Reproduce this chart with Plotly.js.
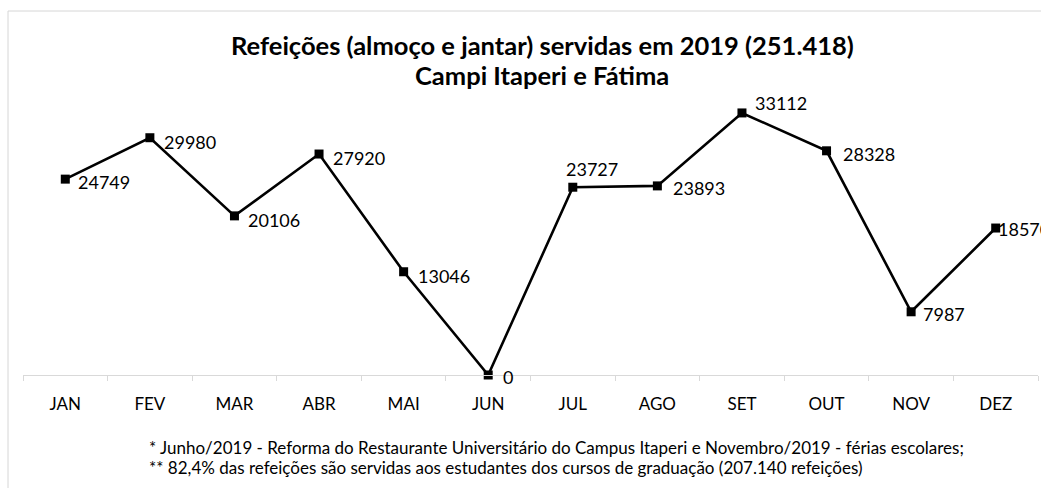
<!DOCTYPE html>
<html><head><meta charset="utf-8">
<script src="https://cdn.plot.ly/plotly-3.0.1.min.js"></script>
<style>html,body{margin:0;padding:0;background:#fff;overflow:hidden}</style>
</head><body>
<div id="chart" style="width:1041px;height:488px"></div>
<script>
const months = ["JAN","FEV","MAR","ABR","MAI","JUN","JUL","AGO","SET","OUT","NOV","DEZ"];
const meals = [24749, 29980, 20106, 27920, 13046, 0, 23727, 23893, 33112, 28328, 7987, 18570];
const titleLines = ["Refeições (almoço e jantar) servidas em 2019 (251.418)", "Campi Itaperi e Fátima"];
const footnotes = ["* Junho/2019 - Reforma do Restaurante Universitário do Campus Itaperi e Novembro/2019 - férias escolares;",
                   "** 82,4% das refeições são servidas aos estudantes dos cursos de graduação (207.140 refeições)"];

// label placement offsets (pixels) per point: [xshift, yshift]
const labelShift = [[11,-3],[12,-4],[12,-4],[12,-4],[12,-4],[13,-2],[-9,18],[14,-2],[11,10],[14,-3],[10,-2],[0,-1]];

const FONT = "Lato, 'Open Sans', sans-serif";
const labelAnns = months.map((m, i) => ({
  x: m, y: meals[i], xref: 'x', yref: 'y', text: String(meals[i]),
  showarrow: false, xanchor: 'left', yanchor: 'middle',
  xshift: labelShift[i][0], yshift: labelShift[i][1],
  font: {family: FONT, size: 18, color: '#000'}
}));

const plotTop = 98, plotBottom = 375, plotLeft = 23, plotW = 1015, plotH = 277;
const footAnns = footnotes.map((t, i) => ({
  xref: 'paper', yref: 'paper', x: (147 - plotLeft) / plotW, y: (plotBottom - (447 + 20 * i)) / plotH,
  xanchor: 'left', yanchor: 'middle', align: 'left', showarrow: false,
  text: t, font: {family: FONT, size: 17, color: '#000'}
}));
const titleAnns = titleLines.map((t, i) => ({
  xref: 'paper', yref: 'paper', x: (542 - plotLeft) / plotW, y: (plotBottom - (45 + 30 * i)) / plotH,
  xanchor: 'center', yanchor: 'middle', showarrow: false,
  text: '<b>' + t + '</b>', font: {family: FONT, size: 25.5, color: '#000'}
}));

const trace = {
  x: months, y: meals, type: 'scatter', mode: 'lines+markers',
  line: {color: '#000', width: 2.6},
  marker: {symbol: 'square', size: 9, color: '#000'},
  cliponaxis: false, hoverinfo: 'skip'
};

const layout = {
  width: 1041, height: 488,
  margin: {l: plotLeft, r: 1041 - plotLeft - plotW, t: plotTop, b: 488 - plotBottom},
  paper_bgcolor: '#fff', plot_bgcolor: '#fff',
  showlegend: false,
  xaxis: {type: 'category', range: [-0.5, 11.5], showgrid: false, zeroline: false,
          showline: true, linecolor: '#d9d9d9', linewidth: 1,
          ticks: 'outside', tickson: 'boundaries', ticklen: 5, tickcolor: '#d9d9d9',
          ticklabelstandoff: 14,
          tickfont: {family: FONT, size: 17, color: '#000'}},
  yaxis: {range: [0, 35000], visible: false, showgrid: false, zeroline: false},
  annotations: labelAnns.concat(titleAnns, footAnns),
  shapes: [{type: 'rect', xref: 'paper', yref: 'paper',
            x0: (8 - plotLeft) / plotW, x1: 1.2, y0: -1, y1: (plotBottom - 11) / plotH,
            line: {color: '#d6d6d6', width: 1}, fillcolor: 'rgba(0,0,0,0)', layer: 'below'}]
};

Plotly.newPlot('chart', [trace], layout, {displayModeBar: false, staticPlot: true});
</script>
</body></html>
